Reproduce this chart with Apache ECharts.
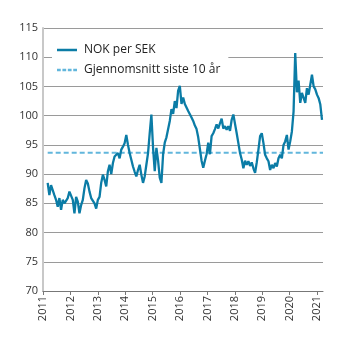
<!DOCTYPE html>
<html>
<head>
<meta charset="utf-8">
<script src="https://cdn.jsdelivr.net/npm/echarts@6/dist/echarts.min.js"></script>
<style>
  html, body { margin: 0; padding: 0; background: #fff; }
  #chart { width: 345px; height: 341px; }
</style>
</head>
<body>
<div id="chart"></div>
<script>
// NOK per SEK exchange rate, sampled roughly every three weeks
const firstObs = 2011.171;   // decimal year of first observation
const obsStep = 0.06105;     // years between observations
const nokPerSek = [
  88.5, 86.4, 88.1, 88.1, 86.4, 85.6, 84.4, 85.9, 83.9, 85.6,
  85.0, 85.0, 85.9, 87.0, 87.3, 85.6, 83.3, 86.1, 85.3, 83.3,
  84.7, 85.6, 87.6, 89.0, 88.4, 87.0, 85.9, 85.6, 85.0, 84.1,
  85.6, 86.1, 88.5, 89.9, 89.0, 87.9, 90.5, 91.6, 90.0, 91.9,
  93.0, 92.7, 93.6, 92.7, 94.2, 94.7, 95.3, 96.7, 95.0, 93.6,
  93.3, 91.3, 90.4, 89.6, 90.7, 91.6, 89.9, 88.5, 89.6, 91.6,
  93.6, 97.0, 100.2, 94.5, 90.5, 94.5, 92.3, 89.4, 88.5, 93.4,
  95.4, 96.3, 96.0, 99.1, 101.1, 100.3, 102.5, 101.3, 104.3, 105.1,
  102.0, 103.1, 102.0, 102.3, 100.8, 100.5, 99.7, 99.1, 98.3, 97.7,
  96.3, 94.3, 92.3, 91.1, 92.3, 93.4, 95.4, 93.4, 96.5, 97.0,
  97.7, 98.5, 97.8, 98.7, 99.5, 97.8, 98.2, 97.6, 98.2, 97.4,
  99.3, 100.2, 98.6, 97.0, 95.3, 93.6, 92.5, 91.0, 92.3, 91.6,
  92.2, 91.4, 92.0, 91.0, 90.2, 92.0, 94.2, 96.5, 97.0, 95.3,
  93.3, 92.7, 92.2, 90.7, 91.6, 91.0, 91.9, 91.3, 92.7, 93.3,
  92.7, 95.0, 95.6, 96.7, 94.2, 95.6, 97.3, 100.7, 110.7, 104.0,
  106.0, 102.2, 103.9, 104.2, 102.2, 104.7, 103.6, 105.3, 107.0, 105.0,
  104.5, 103.6, 103.0, 101.9, 99.3
];
// Ten-year average
const avgTenYears = 93.65;
const yearTicks = [2011, 2012, 2013, 2014, 2015, 2016, 2017, 2018, 2019, 2020, 2021];
const seriesNames = ['NOK per SEK', 'Gjennomsnitt siste 10 år'];

const rateData = nokPerSek.map((v, i) => [firstObs + i * obsStep, v]);
const avgData = [[firstObs, avgTenYears], [2021.22, avgTenYears]];

const lineColor = '#0b7ca6';
const avgColor = '#62b6dc';
const font = 'Open Sans';

// legend glyphs: a solid bar and a dashed bar
const solidIcon = 'path://M0,0H24V3H0Z';
const dashedIcon = 'path://M0,0H4.5V3H0Z M6.5,0H11V3H6.5Z M13,0H17.5V3H13Z M19.5,0H24V3H19.5Z';

const chart = echarts.init(document.getElementById('chart'), null, { renderer: 'canvas' });
chart.setOption({
  animation: false,
  backgroundColor: '#fff',
  grid: { left: 43, right: 22, top: 28, bottom: 50, containLabel: false },
  legend: {
    left: 52, top: 39,
    orient: 'vertical',
    itemGap: 6,
    itemWidth: 24, itemHeight: 2.5,
    padding: [4, 8, 4, 5],
    backgroundColor: '#fff',
    textStyle: { fontFamily: font, fontSize: 12, color: '#222', lineHeight: 14, height: 14 },
    data: [
      { name: seriesNames[0], icon: solidIcon, itemStyle: { color: lineColor } },
      { name: seriesNames[1], icon: dashedIcon, itemStyle: { color: avgColor } }
    ]
  },
  xAxis: {
    type: 'value',
    min: yearTicks[0],
    max: 2021.22,
    interval: 1,
    axisLine: { show: true, lineStyle: { color: '#777', width: 1 } },
    axisTick: { show: true, length: 4, lineStyle: { color: '#777' } },
    axisLabel: {
      rotate: 90, fontFamily: font, fontSize: 11, color: '#333', margin: 5,
      showMaxLabel: false,
      formatter: v => (yearTicks.includes(Math.round(v)) && Math.abs(v - Math.round(v)) < 1e-6) ? String(Math.round(v)) : ''
    },
    splitLine: { show: false }
  },
  yAxis: {
    type: 'value',
    min: 70, max: 115, interval: 5,
    axisLine: { show: true, lineStyle: { color: '#c8c8c8', width: 2 } },
    axisTick: { show: false },
    axisLabel: { fontFamily: font, fontSize: 11, color: '#333', margin: 5 },
    splitLine: { show: true, lineStyle: { color: '#9a9a9a', width: 1 } }
  },
  series: [
    {
      name: seriesNames[0],
      type: 'line',
      data: rateData,
      showSymbol: false,
      symbol: 'none',
      z: 3,
      lineStyle: { color: lineColor, width: 2.3 },
      itemStyle: { color: lineColor }
    },
    {
      name: seriesNames[1],
      type: 'line',
      data: avgData,
      showSymbol: false,
      symbol: 'none',
      z: 2,
      lineStyle: { color: avgColor, width: 2, type: [5, 3] },
      itemStyle: { color: avgColor }
    }
  ]
});
</script>
</body>
</html>
